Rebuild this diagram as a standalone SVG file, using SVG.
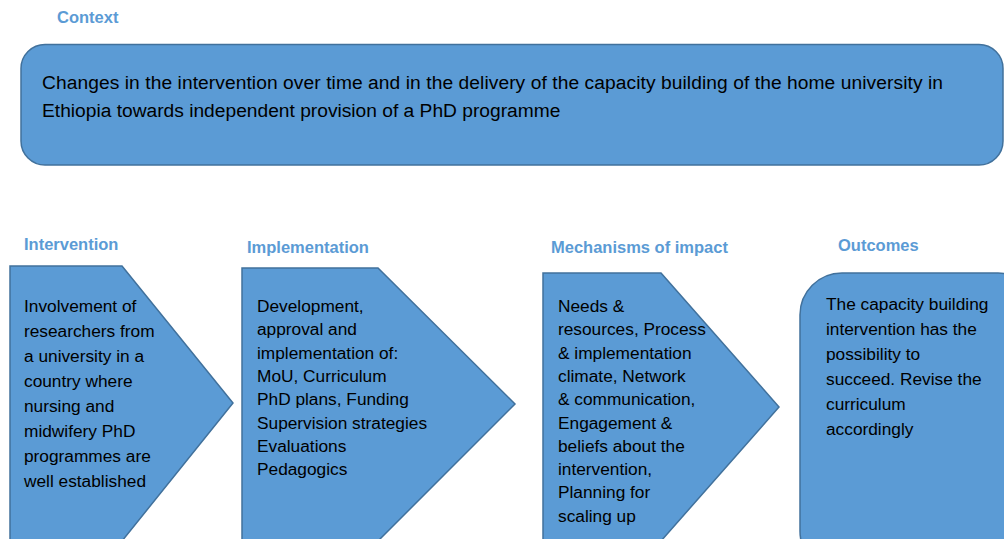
<svg xmlns="http://www.w3.org/2000/svg" width="1004" height="539" viewBox="0 0 1004 539">
<style>
.shape{fill:#5b9bd5;stroke:#41719c;stroke-width:1.5}
.head{font-family:"Liberation Sans",Arial,sans-serif;font-weight:bold;font-size:16.5px;fill:#5b9bd5}
.body{font-family:"Liberation Sans",Arial,sans-serif;font-size:17.3px;fill:#000}
.ctx{font-family:"Liberation Sans",Arial,sans-serif;font-size:19.2px;fill:#000}
</style>
<rect width="1004" height="539" fill="#fff"/>
<g id="context">
<text class="head" x="57" y="23">Context</text>
<rect class="shape" x="21" y="44.5" width="982" height="120.5" rx="24" ry="24"/>
<text class="ctx" x="42" y="89" textLength="901">Changes in the intervention over time and in the delivery of the capacity building of the home university in</text>
<text class="ctx" x="42" y="117">Ethiopia towards independent provision of a PhD programme</text>
</g>
<g id="intervention">
<text class="head" x="24" y="250">Intervention</text>
<polygon class="shape" points="10,266 122,266 233,403 122,541 10,541"/>
<text class="body" x="24" y="312">Involvement of</text>
<text class="body" x="24" y="337">researchers from</text>
<text class="body" x="24" y="362">a university in a</text>
<text class="body" x="24" y="387">country where</text>
<text class="body" x="24" y="412">nursing and</text>
<text class="body" x="24" y="437">midwifery PhD</text>
<text class="body" x="24" y="462">programmes are</text>
<text class="body" x="24" y="487">well established</text>
</g>
<g id="implementation">
<text class="head" x="247" y="253">Implementation</text>
<polygon class="shape" points="242,268 378,268 515,404 378,541 242,541"/>
<text class="body" x="257" y="312">Development,</text>
<text class="body" x="257" y="335.3">approval and</text>
<text class="body" x="257" y="358.6">implementation of:</text>
<text class="body" x="257" y="381.9">MoU, Curriculum</text>
<text class="body" x="257" y="405.2">PhD plans, Funding</text>
<text class="body" x="257" y="428.5">Supervision strategies</text>
<text class="body" x="257" y="451.8">Evaluations</text>
<text class="body" x="257" y="475.1">Pedagogics</text>
</g>
<g id="mechanisms">
<text class="head" x="551" y="253">Mechanisms of impact</text>
<polygon class="shape" points="543,273 661,273 779,407 661,541 543,541"/>
<text class="body" x="558" y="312">Needs &amp;</text>
<text class="body" x="558" y="335.3">resources, Process</text>
<text class="body" x="558" y="358.6">&amp; implementation</text>
<text class="body" x="558" y="381.9">climate, Network</text>
<text class="body" x="558" y="405.2">&amp; communication,</text>
<text class="body" x="558" y="428.5">Engagement &amp;</text>
<text class="body" x="558" y="451.8">beliefs about the</text>
<text class="body" x="558" y="475.1">intervention,</text>
<text class="body" x="558" y="498.4">Planning for</text>
<text class="body" x="558" y="521.7">scaling up</text>
</g>
<g id="outcomes">
<text class="head" x="838" y="251">Outcomes</text>
<rect class="shape" x="800" y="273" width="240" height="300" rx="42" ry="42"/>
<text class="body" x="826" y="310">The capacity building</text>
<text class="body" x="826" y="335">intervention has the</text>
<text class="body" x="826" y="360">possibility to</text>
<text class="body" x="826" y="385">succeed. Revise the</text>
<text class="body" x="826" y="410">curriculum</text>
<text class="body" x="826" y="435">accordingly</text>
</g>
<g id="connectors"/>
</svg>
